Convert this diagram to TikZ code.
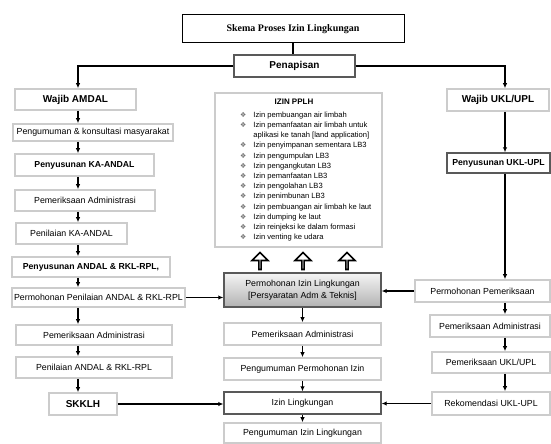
\documentclass[tikz,border=0pt]{standalone}
\usepackage{fontspec}
\setmainfont{Liberation Sans}
\newfontfamily\titlefont{Liberation Serif}
\newfontfamily\symfont{DejaVu Sans}
\usepackage{tikz}
\usetikzlibrary{arrows.meta}
\usetikzlibrary{shapes.arrows}
\usetikzlibrary{calc}

\tikzset{
  lbox/.style={draw=black!20, line width=1.6pt, fill=white, inner sep=1pt,
               font=\fontsize{8.8}{10}\selectfont},
  dbox/.style={draw=black!65, line width=1.4pt, fill=white, inner sep=1pt,
               font=\fontsize{8.8}{10}\selectfont},
  hbig/.style={font=\fontsize{10}{12}\selectfont\bfseries},
  hsmall/.style={font=\fontsize{8.7}{10}\selectfont\bfseries},
  flow/.style={-{Latex[length=5pt,width=4.5pt]}, line width=1.3pt},
  hollow/.style={single arrow, draw=black, line width=1.6pt, fill=white,
                 shape border rotate=90, inner sep=0pt, minimum width=16pt,
                 minimum height=17pt, single arrow head extend=5pt,
                 single arrow tip angle=90},
}
\newcommand{\itm}{{\symfont\color{black!55}\fontsize{7}{7}\selectfont ❖}}

\begin{document}
\begin{tikzpicture}[x=1pt,y=-1pt]
	\useasboundingbox (0,0) rectangle (551,444);
	\coordinate (colL) at (78,0);
	\coordinate (colR) at (505,0);

	% top
	\node[draw=black, line width=1pt, minimum width=222, minimum height=28,
	      font=\titlefont\bfseries\fontsize{10}{12}\selectfont] (title) at (293,29) {Skema Proses Izin Lingkungan};
	\node[dbox, hbig, minimum width=121, minimum height=22] (pen) at (294.5,66) {Penapisan};

	% AMDAL column
	\begin{scope}[every node/.style={lbox}]
		\node[hbig, minimum width=121, minimum height=21] (wa) at (75.5,99.5) {Wajib AMDAL};
		\node[minimum width=160, minimum height=17] (pk) at (93,132.5) {Pengumuman \& konsultasi masyarakat};
		\node[hsmall, minimum width=139, minimum height=22] (ka) at (84.5,165) {Penyusunan KA-ANDAL};
		\node[minimum width=140, minimum height=21] (pa1) at (85,200.5) {Pemeriksaan Administrasi};
		\node[minimum width=111, minimum height=21] (nka) at (71.5,233.5) {Penilaian KA-ANDAL};
		\node[hsmall, minimum width=158, minimum height=20] (an) at (91,267) {Penyusunan ANDAL \& RKL-RPL,};
		\node[minimum width=173, minimum height=19] (pp) at (98.5,297.5) {Permohonan Penilaian ANDAL \& RKL-RPL};
		\node[minimum width=156, minimum height=20] (pa2) at (94,335) {Pemeriksaan Administrasi};
		\node[minimum width=156, minimum height=21] (nan) at (94,367.5) {Penilaian ANDAL \& RKL-RPL};
		\node[hbig, minimum width=68, minimum height=22] (sk) at (83,404) {SKKLH};
	\end{scope}

	% middle column
	\node[lbox, minimum width=167, minimum height=154] (pplh) at (298.5,170) {};
	\node[font=\fontsize{8}{9}\selectfont\bfseries, inner sep=0pt] (pplht) at (294,102) {IZIN PPLH};
	\node[anchor=north west, inner sep=0pt, font=\fontsize{7.6}{10.2}\selectfont] (pplhl) at (240,110) {%
		\begin{tabular}{@{}c@{\hspace{7pt}}l@{}}
		\itm & Izin pembuangan air limbah\\
		\itm & Izin pemanfaatan air limbah untuk\\
		     & aplikasi ke tanah [land application]\\
		\itm & Izin penyimpanan sementara LB3\\
		\itm & Izin pengumpulan LB3\\
		\itm & Izin pengangkutan LB3\\
		\itm & Izin pemanfaatan LB3\\
		\itm & Izin pengolahan LB3\\
		\itm & Izin penimbunan LB3\\
		\itm & Izin pembuangan air limbah ke laut\\
		\itm & Izin dumping ke laut\\
		\itm & Izin reinjeksi ke dalam formasi\\
		\itm & Izin venting ke udara
		\end{tabular}};

	\node[hollow] (up1) at (260,261.5) {};
	\node[hollow] (up2) at (303,261.5) {};
	\node[hollow] (up3) at (347,261.5) {};

	\node[dbox, top color=black!4, bottom color=black!30, minimum width=157, minimum height=34,
	      align=center, font=\fontsize{8.8}{12}\selectfont] (pi) at (302.5,290) {Permohonan Izin Lingkungan\\{}[Persyaratan Adm \& Teknis]};
	\begin{scope}[every node/.style={lbox, minimum width=157, minimum height=22}]
		\node (pa3) at (302.5,334) {Pemeriksaan Administrasi};
		\node (pg) at (302.5,369) {Pengumuman Permohonan Izin};
		\node[dbox] (il) at (302.5,403) {Izin Lingkungan};
		\node[minimum height=20] (pgi) at (302.5,433) {Pengumuman Izin Lingkungan};
	\end{scope}

	% UKL/UPL column
	\begin{scope}[every node/.style={lbox}]
		\node[hbig, minimum width=102, minimum height=22] (wu) at (498,100) {Wajib UKL/UPL};
		\node[dbox, hsmall, minimum width=103, minimum height=20] (uk) at (498.5,163) {Penyusunan UKL-UPL};
		\node[minimum width=135, minimum height=22] (rp) at (482.5,291) {Permohonan Pemeriksaan};
		\node[minimum width=120, minimum height=22] (pa4) at (490,326) {Pemeriksaan Administrasi};
		\node[minimum width=118, minimum height=21] (pu) at (491,362.5) {Pemeriksaan UKL/UPL};
		\node[minimum width=118, minimum height=23] (re) at (491,403.5) {Rekomendasi UKL-UPL};
	\end{scope}

	\begin{scope}[every path/.style={flow}]
		\draw[-] (title.south) -- (title.south |- pen.north);
		\draw (pen.west) -| (colL |- wa.north);
		\draw (pen.east) -| (colR |- wu.north);
		\foreach \a/\b in {wa/pk, pk/ka, ka/pa1, pa1/nka, nka/an, an/pp, pp/pa2, pa2/nan, nan/sk}
			\draw (colL |- \a.south) -- (colL |- \b.north);
		\foreach \a/\b in {pi/pa3, pa3/pg, pg/il, il/pgi}
			\draw (\a.south) -- (\b.north);
		\foreach \a/\b in {wu/uk, uk/rp, rp/pa4, pa4/pu, pu/re}
			\draw (colR |- \a.south) -- (colR |- \b.north);
		\draw (pp.east) -- (pp.east -| pi.west);
		\draw (sk.east) -- (sk.east -| il.west);
		\draw (rp.west) -- (rp.west -| pi.east);
		\draw (re.west) -- (re.west -| il.east);
	\end{scope}
\end{tikzpicture}
\end{document}
